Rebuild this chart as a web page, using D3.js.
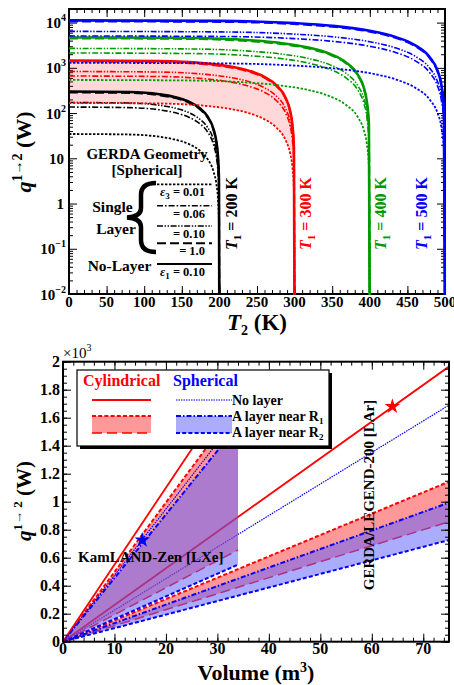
<!DOCTYPE html>
<html>
<head>
<meta charset="utf-8">
<script src="https://cdn.jsdelivr.net/npm/d3@7"></script>
<style>
  body { margin: 0; background: #fff; }
  svg { display: block; }
  svg text { font-family: "Liberation Serif", "Tinos", "DejaVu Serif", serif; font-weight: bold; }
</style>
</head>
<body>
<svg id="chart" width="454" height="685"></svg>
<script>
/* ---------------- data: top panel (q vs T2, log scale) ---------------- */
const t1Values = [200, 300, 400, 500];
const t1Colors = ['#000000', '#ff0000', '#009900', '#0000ff'];

// curve order in each q table: no layer, eps3 = 1.0, 0.10, 0.06, 0.01
const curveKeys = ['noLayer', 'eps100', 'eps010', 'eps006', 'eps001'];

const t2At200 = [0, 80, 120, 140, 160, 174, 184, 192, 196, 198, 199.4, 200];
const t2At300 = [0, 120, 180, 210, 240, 261, 276, 288, 294, 297, 299.1, 300];
const t2At400 = [0, 160, 240, 280, 320, 348, 368, 384, 392, 396, 398.8, 400];
const t2At500 = [0, 200, 300, 350, 400, 435, 460, 480, 490, 495, 498.5, 500];

const qAt200 = [
  [300, 292, 261, 228, 177, 128, 85, 45, 23, 11.7, 3.6, 0],
  [285, 278, 248, 217, 168, 122, 81, 43, 22, 11.1, 3.4, 0],
  [171, 167, 149, 130, 101, 73, 49, 26, 13.3, 6.7, 2.1, 0],
  [136, 132, 118, 103, 80, 58, 39, 20.5, 10.6, 5.3, 1.6, 0],
  [34.5, 33.6, 30, 26.2, 20.4, 14.7, 9.8, 5.2, 2.7, 1.35, 0.41, 0]
];
const qAt300 = [
  [1450, 1412, 1262, 1102, 856, 619, 412, 219, 113, 56.6, 17.4, 0],
  [1380, 1344, 1201, 1049, 814, 589, 392, 208, 108, 53.8, 16.6, 0],
  [830, 808, 722, 631, 490, 354, 236, 125, 64.7, 32.4, 10, 0],
  [660, 643, 574, 502, 389, 282, 187, 99.7, 51.5, 25.7, 7.9, 0],
  [167, 163, 145, 127, 98.5, 71.3, 47.4, 25.2, 13, 6.5, 2, 0]
];
const qAt400 = [
  [4700, 4578, 4089, 3572, 2773, 2007, 1335, 710, 367, 183, 56.4, 0],
  [4470, 4354, 3889, 3397, 2637, 1909, 1269, 675, 349, 174, 53.6, 0],
  [2690, 2620, 2340, 2044, 1587, 1149, 764, 406, 210, 105, 32.3, 0],
  [2130, 2075, 1853, 1619, 1257, 909, 605, 322, 166, 83, 25.6, 0],
  [540, 526, 470, 410, 319, 231, 153, 81.5, 42.1, 21.1, 6.5, 0]
];
const qAt500 = [
  [11200, 10909, 9744, 8512, 6608, 4782, 3181, 1691, 874, 437, 134, 0],
  [10650, 10373, 9266, 8094, 6284, 4548, 3025, 1608, 831, 415, 128, 0],
  [6400, 6234, 5568, 4864, 3776, 2733, 1818, 966, 499, 250, 77, 0],
  [5080, 4948, 4420, 3861, 2997, 2169, 1443, 767, 396, 198, 61, 0],
  [1290, 1256, 1122, 980, 761, 551, 366, 195, 101, 50.3, 15.5, 0]
];

const topXTicks = [0, 50, 100, 150, 200, 250, 300, 350, 400, 450, 500];
const topYTicks = [1e-2, 1e-1, 1, 10, 1e2, 1e3, 1e4];
const topYTickLabels = [['10', '\u22122'], ['10', '\u22121'], ['1', ''], ['10', ''], ['10', '2'], ['10', '3'], ['10', '4']];
const legendEpsLabels = ['= 0.01', '= 0.06', '= 0.10', '= 1.0'];

/* ---------------- data: bottom panel (q vs volume) ---------------- */
// values in units of 10^3 W
const volLXe = [0, 34];
const lxeCylNoLayer = [0, 1.87];
const lxeSphNoLayer = [0, 1.61];
const lxeCylNearR1 = [0, 1.69];
const lxeCylNearR2 = [0, 0.655];
const lxeSphNearR1 = [0, 1.545];
const lxeSphNearR2 = [0, 0.55];

const volLAr = [0, 75];
const larCylNoLayer = [0, 1.965];
const larSphNoLayer = [0, 1.69];
const larCylNearR1 = [0, 1.143];
const larCylNearR2 = [0, 0.857];
const larSphNearR1 = [0, 0.993];
const larSphNearR2 = [0, 0.726];

const starVolume = [15.4, 64];
const starQ = [0.726, 1.68];
const starColors = ['#0000ff', '#ff0000'];

const botXTicks = [0, 10, 20, 30, 40, 50, 60, 70];
const botYTicks = [0, 0.2, 0.4, 0.6, 0.8, 1, 1.2, 1.4, 1.6, 1.8, 2];

/* ---------------- styles ---------------- */
const curveStyle = {
  noLayer: { dash: null, width: 2.6 },
  eps100: { dash: '9,4', width: 2 },
  eps010: { dash: '6,1.6,1.4,1.6,1.4,1.6', width: 1.6 },
  eps006: { dash: '6,2,1.6,2', width: 1.6 },
  eps001: { dash: '2.4,1.6', width: 1.8 }
};
const PINK = 'rgba(255,0,0,0.4)';
const LBLUE = 'rgba(95,95,255,0.52)';

const svg = d3.select('#chart');

/* ---------------- helpers ---------------- */
function frameTicks(g, x, y, xMajor, xMinor, yMajor, yMinor, box) {
  const add = (axis, tr) => g.append('g').attr('transform', tr).call(axis)
    .call(s => s.select('.domain').remove())
    .call(s => s.selectAll('line').attr('stroke', '#000').attr('stroke-width', 1));
  add(d3.axisBottom(x).tickValues(xMinor).tickSize(-4).tickFormat(''), `translate(0,${box.bottom})`);
  add(d3.axisBottom(x).tickValues(xMajor).tickSize(-8).tickFormat(''), `translate(0,${box.bottom})`);
  add(d3.axisTop(x).tickValues(xMinor).tickSize(-4).tickFormat(''), `translate(0,${box.top})`);
  add(d3.axisTop(x).tickValues(xMajor).tickSize(-8).tickFormat(''), `translate(0,${box.top})`);
  add(d3.axisLeft(y).tickValues(yMinor).tickSize(-4).tickFormat(''), `translate(${box.left},0)`);
  add(d3.axisLeft(y).tickValues(yMajor).tickSize(-8).tickFormat(''), `translate(${box.left},0)`);
  add(d3.axisRight(y).tickValues(yMinor).tickSize(-4).tickFormat(''), `translate(${box.right},0)`);
  add(d3.axisRight(y).tickValues(yMajor).tickSize(-8).tickFormat(''), `translate(${box.right},0)`);
  g.append('rect')
    .attr('x', box.left).attr('y', box.top)
    .attr('width', box.right - box.left).attr('height', box.bottom - box.top)
    .attr('fill', 'none').attr('stroke', '#000').attr('stroke-width', 2);
}

/* ======================= top panel ======================= */
const topBox = { left: 69, right: 445, top: 9, bottom: 294 };
const xT = d3.scaleLinear().domain([0, 500]).range([topBox.left, topBox.right]);
const yT = d3.scaleLog().domain([1e-2, 2e4]).range([topBox.bottom, topBox.top]);

const defs = svg.append('defs');
defs.append('clipPath').attr('id', 'clipTop').append('rect')
  .attr('x', topBox.left).attr('y', topBox.top)
  .attr('width', topBox.right - topBox.left + 2).attr('height', topBox.bottom - topBox.top + 1);
defs.append('clipPath').attr('id', 'clipBot').append('rect')
  .attr('x', 63).attr('y', 361.7).attr('width', 386).attr('height', 280);

const gTop = svg.append('g');
const logMinor = [];
for (let e = -2; e <= 4; e++) for (let k = 2; k <= 9; k++) if (k * 10 ** e <= 2e4) logMinor.push(k * 10 ** e);
frameTicks(gTop, xT, yT, topXTicks, d3.range(0, 501, 10), topYTicks, logMinor, topBox);

const plotTop = gTop.append('g').attr('clip-path', 'url(#clipTop)');
const t2Grids = [t2At200, t2At300, t2At400, t2At500];
const qTables = [qAt200, qAt300, qAt400, qAt500];
const yLog = v => yT(Math.max(v, 1e-3));

// pink band for T1 = 300 K between the no-layer and eps3 = 0.01 curves
const bandPts = t2At300.map((t, i) => ({ t, hi: qAt300[0][i], lo: qAt300[4][i] }));
plotTop.append('path')
  .attr('d', d3.area().x(d => xT(d.t)).y0(d => yLog(d.lo)).y1(d => yLog(d.hi)).curve(d3.curveMonotoneX)(bandPts))
  .attr('fill', 'rgba(255,0,0,0.15)');

const lineT = d3.line().x(d => xT(d[0])).y(d => yLog(d[1])).curve(d3.curveMonotoneX);
t1Values.forEach((t1, gi) => {
  curveKeys.slice().reverse().forEach(key => {
    const ci = curveKeys.indexOf(key);
    const pts = t2Grids[gi].map((t, i) => [t, qTables[gi][ci][i]]);
    plotTop.append('path')
      .attr('d', lineT(pts))
      .attr('fill', 'none')
      .attr('stroke', t1Colors[gi])
      .attr('stroke-width', curveStyle[key].width)
      .attr('stroke-dasharray', curveStyle[key].dash);
  });
});

// tick labels
gTop.selectAll('text.xl').data(topXTicks).join('text')
  .attr('class', 'xl').attr('x', d => xT(d)).attr('y', 306.7)
  .attr('text-anchor', 'middle').attr('font-size', 15).text(d => d);

gTop.selectAll('text.yl').data(topYTicks).join('text')
  .attr('class', 'yl').attr('x', (d, i) => topYTickLabels[i][1] ? 66 : 64).attr('y', d => yT(d) + 5.5)
  .attr('text-anchor', 'end').attr('font-size', 15)
  .each(function (d, i) {
    const [base, sup] = topYTickLabels[i];
    const t = d3.select(this);
    t.append('tspan').text(base);
    if (sup) t.append('tspan').attr('font-size', 10).attr('dy', -7).text(sup);
  });

// axis titles
gTop.append('text').attr('x', 257).attr('y', 330).attr('text-anchor', 'middle').attr('font-size', 23)
  .call(t => {
    t.append('tspan').attr('font-style', 'italic').text('T');
    t.append('tspan').attr('font-size', 14).attr('dy', 5).text('2');
    t.append('tspan').attr('dy', -5).text(' (K)');
  });

gTop.append('text').attr('transform', 'translate(31,152) rotate(-90)').attr('text-anchor', 'middle').attr('font-size', 22)
  .call(t => {
    t.append('tspan').attr('font-style', 'italic').text('q');
    t.append('tspan').attr('font-size', 14).attr('dy', -9).text('1\u21922');
    t.append('tspan').attr('dy', 9).text(' (W)');
  });

// T1 labels
const t1LabelX = [237, 310.5, 385.5, 427];
t1Values.forEach((t1, i) => {
  gTop.append('text').attr('transform', `translate(${t1LabelX[i]},213.5) rotate(-90)`)
    .attr('text-anchor', 'middle').attr('font-size', 16).attr('fill', t1Colors[i])
    .call(t => {
      t.append('tspan').attr('font-style', 'italic').text('T');
      t.append('tspan').attr('font-size', 11).attr('dy', 4).text('1');
      t.append('tspan').attr('dy', -4).text(` = ${t1} K`);
    });
});

// in-plot legend
gTop.append('text').attr('x', 147).attr('y', 159).attr('text-anchor', 'middle').attr('font-size', 15).text('GERDA Geometry');
gTop.append('text').attr('x', 147).attr('y', 175).attr('text-anchor', 'middle').attr('font-size', 15).text('[Spherical]');
gTop.append('text').attr('x', 112.5).attr('y', 212).attr('text-anchor', 'middle').attr('font-size', 15.5).text('Single');
gTop.append('text').attr('x', 116).attr('y', 234).attr('text-anchor', 'middle').attr('font-size', 15.5).text('Layer');
gTop.append('text').attr('x', 119.5).attr('y', 271).attr('text-anchor', 'middle').attr('font-size', 15.5).text('No-Layer');

gTop.append('path')
  .attr('d', 'M156,183 C146,183 141,187 141,195 L141,208 C141,214 136,217 127,217.5 C136,218 141,221 141,227 L141,240 C141,248 146,252 156,252')
  .attr('fill', 'none').attr('stroke', '#000').attr('stroke-width', 4.5);

const legLineY = [184.3, 205.7, 226, 243.3, 264];
const legKeys = ['eps001', 'eps006', 'eps010', 'eps100', 'noLayer'];
legKeys.forEach((key, i) => {
  gTop.append('line').attr('x1', 157).attr('x2', 212).attr('y1', legLineY[i]).attr('y2', legLineY[i])
    .attr('stroke', '#000').attr('stroke-width', key === 'noLayer' ? 2 : curveStyle[key].width)
    .attr('stroke-dasharray', curveStyle[key].dash);
});
legendEpsLabels.forEach((lab, i) => {
  const t = gTop.append('text').attr('x', 205).attr('y', legLineY[i] + 12).attr('text-anchor', 'end').attr('font-size', 12.5);
  if (i === 0) {
    t.append('tspan').attr('font-style', 'italic').text('\u03b5');
    t.append('tspan').attr('font-size', 9).attr('dy', 3).text('3');
    t.append('tspan').attr('dy', -3).text(' ' + lab);
  } else t.text(lab);
});
gTop.append('text').attr('x', 205).attr('y', legLineY[4] + 12).attr('text-anchor', 'end').attr('font-size', 12.5)
  .call(t => {
    t.append('tspan').attr('font-style', 'italic').text('\u03b5');
    t.append('tspan').attr('font-size', 9).attr('dy', 3).text('1');
    t.append('tspan').attr('dy', -3).text(' = 0.10');
  });

/* ======================= bottom panel ======================= */
const botBox = { left: 63, right: 449, top: 361.7, bottom: 641.7 };
const xB = d3.scaleLinear().domain([0, 75]).range([botBox.left, botBox.right]);
const yB = d3.scaleLinear().domain([0, 2]).range([botBox.bottom, botBox.top]);

const gBot = svg.append('g');
const plotBot = gBot.append('g').attr('clip-path', 'url(#clipBot)');

const lineB = d3.line().x(d => xB(d[0])).y(d => yB(d[1]));
function drawLine(vol, q, color, width, dash) {
  plotBot.append('path').attr('d', lineB(vol.map((v, i) => [v, q[i]])))
    .attr('fill', 'none').attr('stroke', color).attr('stroke-width', width).attr('stroke-dasharray', dash);
}
function drawBand(vol, lo, hi, fill) {
  const pts = vol.map((v, i) => ({ v, lo: lo[i], hi: hi[i] }));
  plotBot.append('path').attr('d', d3.area().x(d => xB(d.v)).y0(d => yB(d.lo)).y1(d => yB(d.hi))(pts))
    .attr('fill', fill);
}

// LAr (GERDA/LEGEND-200)
drawLine(volLAr, larCylNoLayer, '#ff0000', 1.8, null);
drawLine(volLAr, larSphNoLayer, '#0000ff', 1.2, '1.5,1');
drawBand(volLAr, larCylNearR2, larCylNearR1, PINK);
drawLine(volLAr, larCylNearR1, '#ff0000', 2, '4,2.2');
drawLine(volLAr, larCylNearR2, '#ff0000', 1.5, '10,5');
drawBand(volLAr, larSphNearR2, larSphNearR1, LBLUE);
drawLine(volLAr, larSphNearR1, '#0000ff', 2, '5,2,1.5,2');
drawLine(volLAr, larSphNearR2, '#0000ff', 2, '4,2.2');

// LXe (KamLAND-Zen)
drawBand(volLXe, lxeCylNearR2, lxeCylNearR1, PINK);
drawLine(volLXe, lxeCylNearR1, '#ff0000', 2, '4,2.2');
drawLine(volLXe, lxeCylNearR2, '#ff0000', 1.5, '10,5');
drawBand(volLXe, lxeSphNearR2, lxeSphNearR1, LBLUE);
drawLine(volLXe, lxeSphNearR1, '#0000ff', 2, '5,2,1.5,2');
drawLine(volLXe, lxeSphNearR2, '#0000ff', 2, '4,2.2');
drawLine(volLXe, lxeCylNoLayer, '#ff0000', 1.8, null);
drawLine(volLXe, lxeSphNoLayer, '#0000ff', 1.2, '1.5,1');

plotBot.selectAll('path.star').data(starVolume).join('path')
  .attr('class', 'star')
  .attr('transform', (d, i) => `translate(${xB(d)},${yB(starQ[i])})`)
  .attr('d', d3.symbol(d3.symbolStar, 75))
  .attr('fill', (d, i) => starColors[i]);

frameTicks(gBot, xB, yB, botXTicks, d3.range(0, 75.1, 2), botYTicks, d3.range(0, 2.001, 0.05), botBox);

gBot.selectAll('text.xl').data(botXTicks).join('text')
  .attr('class', 'xl').attr('x', d => xB(d)).attr('y', 653.5)
  .attr('text-anchor', 'middle').attr('font-size', 16).text(d => d);
gBot.selectAll('text.yl').data(botYTicks).join('text')
  .attr('class', 'yl').attr('x', 60).attr('y', d => yB(d) + 5.5)
  .attr('text-anchor', 'end').attr('font-size', 16).text(d => d3.format('~g')(d));

gBot.append('text').attr('x', 63).attr('y', 358).attr('font-size', 15).style('font-weight', 'normal')
  .call(t => {
    t.append('tspan').text('\u00d710');
    t.append('tspan').attr('font-size', 10).attr('dy', -7).text('3');
  });

gBot.append('text').attr('x', 256).attr('y', 680).attr('text-anchor', 'middle').attr('font-size', 22)
  .call(t => {
    t.append('tspan').text('Volume (m');
    t.append('tspan').attr('font-size', 14).attr('dy', -8).text('3');
    t.append('tspan').attr('dy', 8).text(')');
  });

gBot.append('text').attr('transform', 'translate(31,501) rotate(-90)').attr('text-anchor', 'middle').attr('font-size', 21)
  .call(t => {
    t.append('tspan').attr('font-style', 'italic').text('q');
    t.append('tspan').attr('font-size', 13).attr('dy', -9).text('1\u2192 2');
    t.append('tspan').attr('dy', 9).text(' (W)');
  });

gBot.append('text').attr('x', 78).attr('y', 562).attr('font-size', 15).text('KamLAND-Zen [LXe]');
gBot.append('text').attr('transform', 'translate(374,495) rotate(-90)').attr('text-anchor', 'middle')
  .attr('font-size', 15).text('GERDA/LEGEND-200 [LAr]');

// legend
const lg = gBot.append('g');
lg.append('rect').attr('x', 80).attr('y', 373).attr('width', 252).attr('height', 76).attr('fill', '#000');
lg.append('rect').attr('x', 77).attr('y', 370).attr('width', 252).attr('height', 76)
  .attr('fill', '#fff').attr('stroke', '#000').attr('stroke-width', 1.2);
lg.append('text').attr('x', 83).attr('y', 386).attr('font-size', 16).attr('fill', '#ff0000').text('Cylindrical');
lg.append('text').attr('x', 173).attr('y', 386).attr('font-size', 16).attr('fill', '#0000ff').text('Spherical');
lg.append('line').attr('x1', 92).attr('x2', 151).attr('y1', 400).attr('y2', 400).attr('stroke', '#ff0000').attr('stroke-width', 2);
lg.append('line').attr('x1', 176).attr('x2', 232).attr('y1', 400).attr('y2', 400).attr('stroke', '#0000ff')
  .attr('stroke-width', 1.2).attr('stroke-dasharray', '1.5,1');
lg.append('rect').attr('x', 92).attr('y', 416).attr('width', 59).attr('height', 17).attr('fill', PINK);
lg.append('line').attr('x1', 92).attr('x2', 151).attr('y1', 416).attr('y2', 416).attr('stroke', '#ff0000')
  .attr('stroke-width', 2).attr('stroke-dasharray', '4,2.2');
lg.append('line').attr('x1', 92).attr('x2', 151).attr('y1', 433).attr('y2', 433).attr('stroke', '#ff0000')
  .attr('stroke-width', 1.5).attr('stroke-dasharray', '10,5');
lg.append('rect').attr('x', 176).attr('y', 416).attr('width', 56).attr('height', 17).attr('fill', LBLUE);
lg.append('line').attr('x1', 176).attr('x2', 232).attr('y1', 416).attr('y2', 416).attr('stroke', '#0000ff')
  .attr('stroke-width', 2).attr('stroke-dasharray', '5,2,1.5,2');
lg.append('line').attr('x1', 176).attr('x2', 232).attr('y1', 433).attr('y2', 433).attr('stroke', '#0000ff')
  .attr('stroke-width', 2).attr('stroke-dasharray', '4,2.2');
lg.append('text').attr('x', 232).attr('y', 405).attr('font-size', 14).text('No layer');
[['1', 421], ['2', 437]].forEach(([sub, y]) => {
  lg.append('text').attr('x', 232).attr('y', y).attr('font-size', 14)
    .call(t => {
      t.append('tspan').text('A layer near R');
      t.append('tspan').attr('font-size', 9).attr('dy', 3).text(sub);
    });
});
</script>
</body>
</html>
